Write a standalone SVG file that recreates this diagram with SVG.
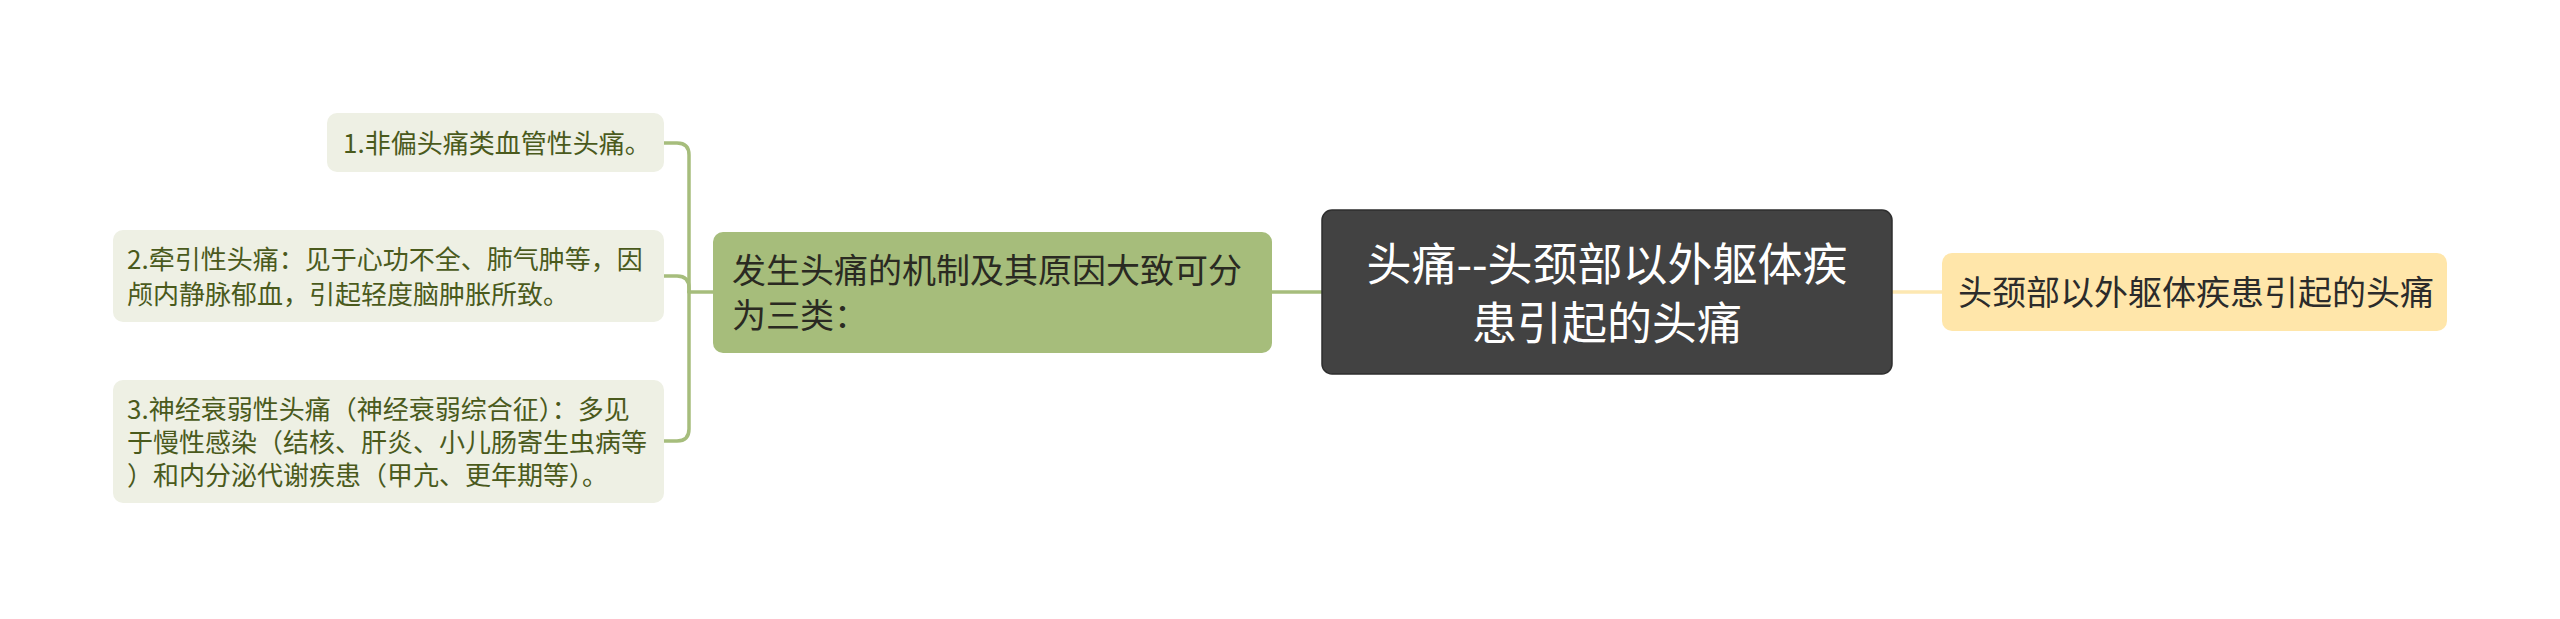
<svg xmlns="http://www.w3.org/2000/svg" width="2560" height="619" viewBox="0 0 2560 619">
<style>
text{font-family:"Noto Sans CJK SC","Noto Sans",sans-serif;}
.leaf rect{fill:#eef0e4;}
.leaf text{fill:#4a5a1c;font-size:26px;}
.conn path{fill:none;stroke-width:3.5;stroke-linecap:round;}
.g{stroke:#a6bd7c;}
.y{stroke:#fde8b2;}
</style>
<rect width="2560" height="619" fill="#ffffff"/>
<g id="connectors" class="conn">
<path class="g" d="M1322,292 L1272,292"/>
<path class="g" d="M713,292 L689,292"/>
<path class="g" d="M689,292 L689,155 Q689,143 677,143 L664,143"/>
<path class="g" d="M689,292 L689,288 Q689,276 677,276 L664,276"/>
<path class="g" d="M689,292 L689,429 Q689,441 677,441 L664,441"/>
<path class="y" d="M1892,292 L1942,292"/>
</g>
<g id="root">
<rect x="1322" y="210" width="570" height="164" rx="10" fill="#424242" stroke="#2e2e2e" stroke-width="1.5"/>
<text x="1607" y="281" font-size="45" fill="#ffffff" text-anchor="middle">头痛--头颈部以外躯体疾</text>
<text x="1607" y="340" font-size="45" fill="#ffffff" text-anchor="middle">患引起的头痛</text>
</g>
<g id="branch-mechanism">
<rect x="713" y="232" width="559" height="121" rx="10" fill="#a6bd7b"/>
<text x="732" y="283" font-size="34" fill="#2a2a22">发生头痛的机制及其原因大致可分</text>
<text x="732" y="328" font-size="34" fill="#2a2a22">为三类：</text>
</g>
<g id="branch-right">
<rect x="1942" y="253" width="505" height="78" rx="10" fill="#ffe6aa"/>
<text x="1958" y="305" font-size="34" fill="#2b2b2b">头颈部以外躯体疾患引起的头痛</text>
</g>
<g id="leaf1" class="leaf">
<rect x="327" y="113" width="337" height="59" rx="10"/>
<text x="343" y="153">1.非偏头痛类血管性头痛。</text>
</g>
<g id="leaf2" class="leaf">
<rect x="113" y="230" width="551" height="92" rx="10"/>
<text x="127" y="269">2.牵引性头痛：见于心功不全、肺气肿等，因</text>
<text x="127" y="304">颅内静脉郁血，引起轻度脑肿胀所致。</text>
</g>
<g id="leaf3" class="leaf">
<rect x="113" y="380" width="551" height="123" rx="10"/>
<text x="127" y="419">3.神经衰弱性头痛（神经衰弱综合征）：多见</text>
<text x="127" y="452">于慢性感染（结核、肝炎、小儿肠寄生虫病等</text>
<text x="127" y="485">）和内分泌代谢疾患（甲亢、更年期等）。</text>
</g>
</svg>
